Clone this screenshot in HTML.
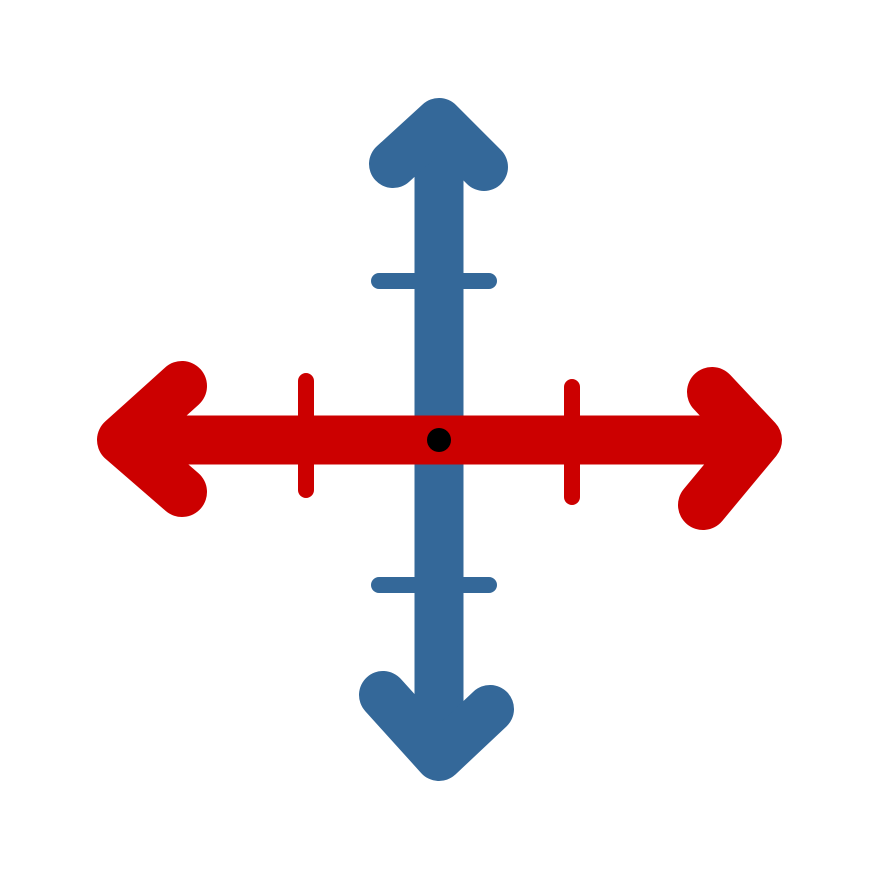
<!DOCTYPE html>
<html><head><style>html,body{margin:0;padding:0;background:#fff;}svg{display:block}</style></head>
<body>
<svg width="880" height="880" viewBox="0 0 880 880" xmlns="http://www.w3.org/2000/svg">
<g stroke="#346899" fill="none" stroke-linecap="round" stroke-linejoin="round">
  <line x1="379" y1="281" x2="489" y2="281" stroke-width="16"/>
  <line x1="379" y1="585" x2="489" y2="585" stroke-width="16"/>
  <line x1="439" y1="140" x2="439" y2="740" stroke-width="49" stroke-linecap="butt"/>
  <polyline points="393,164 439,122 484,167" stroke-width="48"/>
  <polyline points="383,695 439,757 490,709" stroke-width="48"/>
</g>
<g stroke="#cc0000" fill="none" stroke-linecap="round" stroke-linejoin="round">
  <line x1="306" y1="381" x2="306" y2="490" stroke-width="16"/>
  <line x1="572" y1="387" x2="572" y2="497" stroke-width="16"/>
  <line x1="140" y1="440" x2="740" y2="440" stroke-width="49" stroke-linecap="butt"/>
  <polyline points="182,386 122,440 182,492" stroke-width="50"/>
  <polyline points="712,392 757,440 703,505" stroke-width="50"/>
</g>
<circle cx="439" cy="440" r="12" fill="#000"/>
</svg>
</body></html>
